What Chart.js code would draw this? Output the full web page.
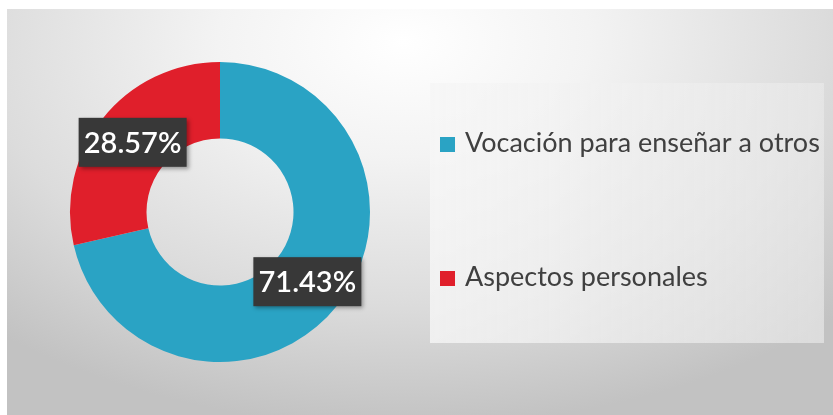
<!DOCTYPE html>
<html>
<head>
<meta charset="utf-8">
<script src="https://cdn.jsdelivr.net/npm/chart.js@4"></script>
<style>
  html, body { margin: 0; padding: 0; background: #fff; }
  #box {
    position: absolute; left: 7px; top: 9px; width: 826px; height: 406px;
    background: radial-gradient(ellipse 75% 95% at 48% 8%, #ffffff 0%, #f3f3f3 30%, #dcdcdc 68%, #c2c2c2 100%);
  }
  canvas { display: block; }
</style>
</head>
<body>
<div id="box"><canvas id="chart" width="826" height="406"></canvas></div>
<script>
// data
var labels = ['Vocación para enseñar a otros', 'Aspectos personales'];
var values = [71.43, 28.57];
var colors = ['#2aa3c4', '#e01f2b'];

// legend panel + items, drawn by hand so they sit where the original has them
var sideLegend = {
    id: 'sideLegend',
    beforeDraw: function (chart) {
        var ctx = chart.ctx;
        ctx.save();
        var g = ctx.createLinearGradient(423, 0, 817, 0);
        g.addColorStop(0, 'rgba(246,246,246,0.8)');
        g.addColorStop(1, 'rgba(234,234,234,0.65)');
        ctx.fillStyle = g;
        ctx.fillRect(423, 74, 394, 260);
        ctx.restore();
    },
    afterDraw: function (chart) {
        var ctx = chart.ctx;
        var rows = [134, 268];
        ctx.save();
        ctx.font = '27px Lato';
        ctx.textBaseline = 'middle';
        labels.forEach(function (lbl, i) {
            ctx.fillStyle = colors[i];
            ctx.fillRect(433, rows[i] - 6, 15, 15);
            ctx.fillStyle = '#404040';
            ctx.fillText(lbl, 458, rows[i]);
        });
        ctx.restore();
    }
};

// dark value boxes on each slice
var sliceLabels = {
    id: 'sliceLabels',
    afterDatasetsDraw: function (chart) {
        var ctx = chart.ctx;
        var meta = chart.getDatasetMeta(0);
        ctx.save();
        ctx.font = '600 29px Lato';
        ctx.textAlign = 'center';
        ctx.textBaseline = 'middle';
        meta.data.forEach(function (arc, i) {
            var p = arc.tooltipPosition();
            var txt = values[i].toFixed(2) + '%';
            var w = 108, h = 49;
            ctx.shadowColor = 'rgba(0,0,0,0.35)';
            ctx.shadowBlur = 4;
            ctx.shadowOffsetX = 2;
            ctx.shadowOffsetY = 2;
            ctx.fillStyle = '#383838';
            ctx.fillRect(p.x - w / 2, p.y - h / 2, w, h);
            ctx.shadowColor = 'transparent';
            ctx.fillStyle = '#ffffff';
            ctx.fillText(txt, p.x, p.y + 1);
        });
        ctx.restore();
    }
};

new Chart(document.getElementById('chart'), {
    type: 'doughnut',
    data: {
        labels: labels,
        datasets: [{
            data: values,
            backgroundColor: colors,
            borderWidth: 0
        }]
    },
    options: {
        responsive: false,
        animation: false,
        cutout: '49%',
        layout: {
            padding: { left: 63, top: 53, right: 463, bottom: 53 }
        },
        plugins: {
            legend: { display: false },
            tooltip: { enabled: false }
        }
    },
    plugins: [sideLegend, sliceLabels]
});
</script>
</body>
</html>
